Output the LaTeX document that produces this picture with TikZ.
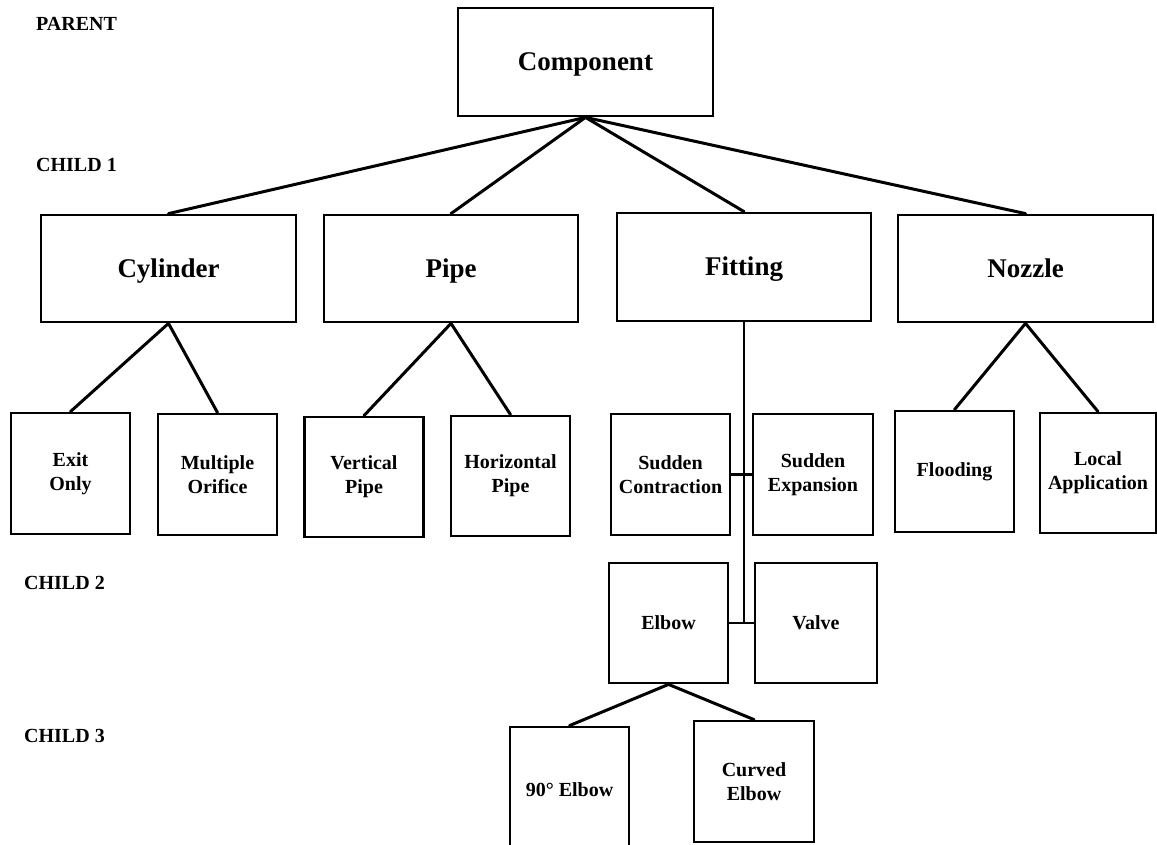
\documentclass[tikz,border=0pt]{standalone}
\usepackage{fontspec}
\setmainfont{Liberation Serif}
\begin{document}
\begin{tikzpicture}[x=1pt,y=-1pt,
  bigbox/.style={draw,line width=2.8pt,inner sep=0pt,align=center,
    text height=18pt,text depth=0pt,
    font=\bfseries\fontsize{27}{32}\selectfont},
  smallbox/.style={draw,line width=2.8pt,inner sep=0pt,align=center,
    minimum width=119pt,minimum height=120pt,
    font=\bfseries\fontsize{20}{24}\selectfont},
  lvl/.style={anchor=west,inner sep=0pt,font=\bfseries\fontsize{20}{24}\selectfont},
  conn/.style={line width=3pt,line cap=round},
  thinconn/.style={line width=2.2pt}]
\useasboundingbox (0,0) rectangle (1157,845);
% level labels
\node[lvl] (lp) at (36,24) {PARENT};
\node[lvl] (l1) at (36,165) {CHILD 1};
\node[lvl] (l2) at (24,583) {CHILD 2};
\node[lvl] (l3) at (24,736) {CHILD 3};
% parent
\node[bigbox,minimum width=255pt,minimum height=108pt] (comp) at (585.5,62) {Component};
% child 1
\node[bigbox,minimum width=255pt,minimum height=107pt] (cyl) at (168.5,268.5) {Cylinder};
\node[bigbox,minimum width=254pt,minimum height=107pt] (pipe) at (451,268.5) {Pipe};
\node[bigbox,minimum width=254pt,minimum height=108pt] (fit) at (744,267) {Fitting};
\node[bigbox,minimum width=255pt,minimum height=107pt] (noz) at (1025.5,268.5) {Nozzle};
% level 2 boxes
\node[smallbox,minimum height=121pt] (exit) at (70.5,473.5) {Exit\\Only};
\node[smallbox,minimum height=121pt] (mult) at (217.5,474.5) {Multiple\\Orifice};
\node[smallbox] (vert) at (364,477) {Vertical\\Pipe};
\node[smallbox] (horiz) at (510.5,476) {Horizontal\\Pipe};
\node[smallbox,minimum height=121pt] (scon) at (670.5,474.5) {Sudden\\Contraction};
\node[smallbox,minimum width=120pt,minimum height=121pt] (sexp) at (813,474.5) {Sudden\\Expansion};
\node[smallbox,minimum height=121pt] (flood) at (954.5,471.5) {Flooding};
\node[smallbox,minimum width=116pt] (local) at (1098,473) {Local\\Application};
% child 2
\node[smallbox] (elbow) at (668.5,623) {Elbow};
\node[smallbox,minimum width=122pt] (valve) at (816,623) {Valve};
% child 3
\node[smallbox,minimum height=126pt] (e90) at (569.5,790) {90° Elbow};
\node[smallbox,minimum width=120pt,minimum height=121pt] (curved) at (754,781.5) {Curved\\Elbow};
% connectors
\coordinate (capex) at (comp.south);
\draw[conn] (capex) -- (cyl.north);
\draw[conn] (capex) -- (pipe.north);
\draw[conn] (capex) -- (fit.north);
\draw[conn] (capex) -- (noz.north);
\draw[conn] (cyl.south) -- (exit.north);
\draw[conn] (cyl.south) -- (mult.north);
\draw[conn] (pipe.south) -- (vert.north);
\draw[conn] (pipe.south) -- (horiz.north);
\draw[conn] (noz.south) -- (flood.north);
\draw[conn] (noz.south) -- (local.north);
\coordinate (fitend) at (fit.south |- elbow.east);
\draw[thinconn] (fit.south) -- (fitend);
\draw[thinconn] (scon.east) -- (sexp.west);
\draw[thinconn] (elbow.east) -- (valve.west);
\draw[conn] (elbow.south) -- (e90.north);
\draw[conn] (elbow.south) -- (curved.north);
\end{tikzpicture}
\end{document}
